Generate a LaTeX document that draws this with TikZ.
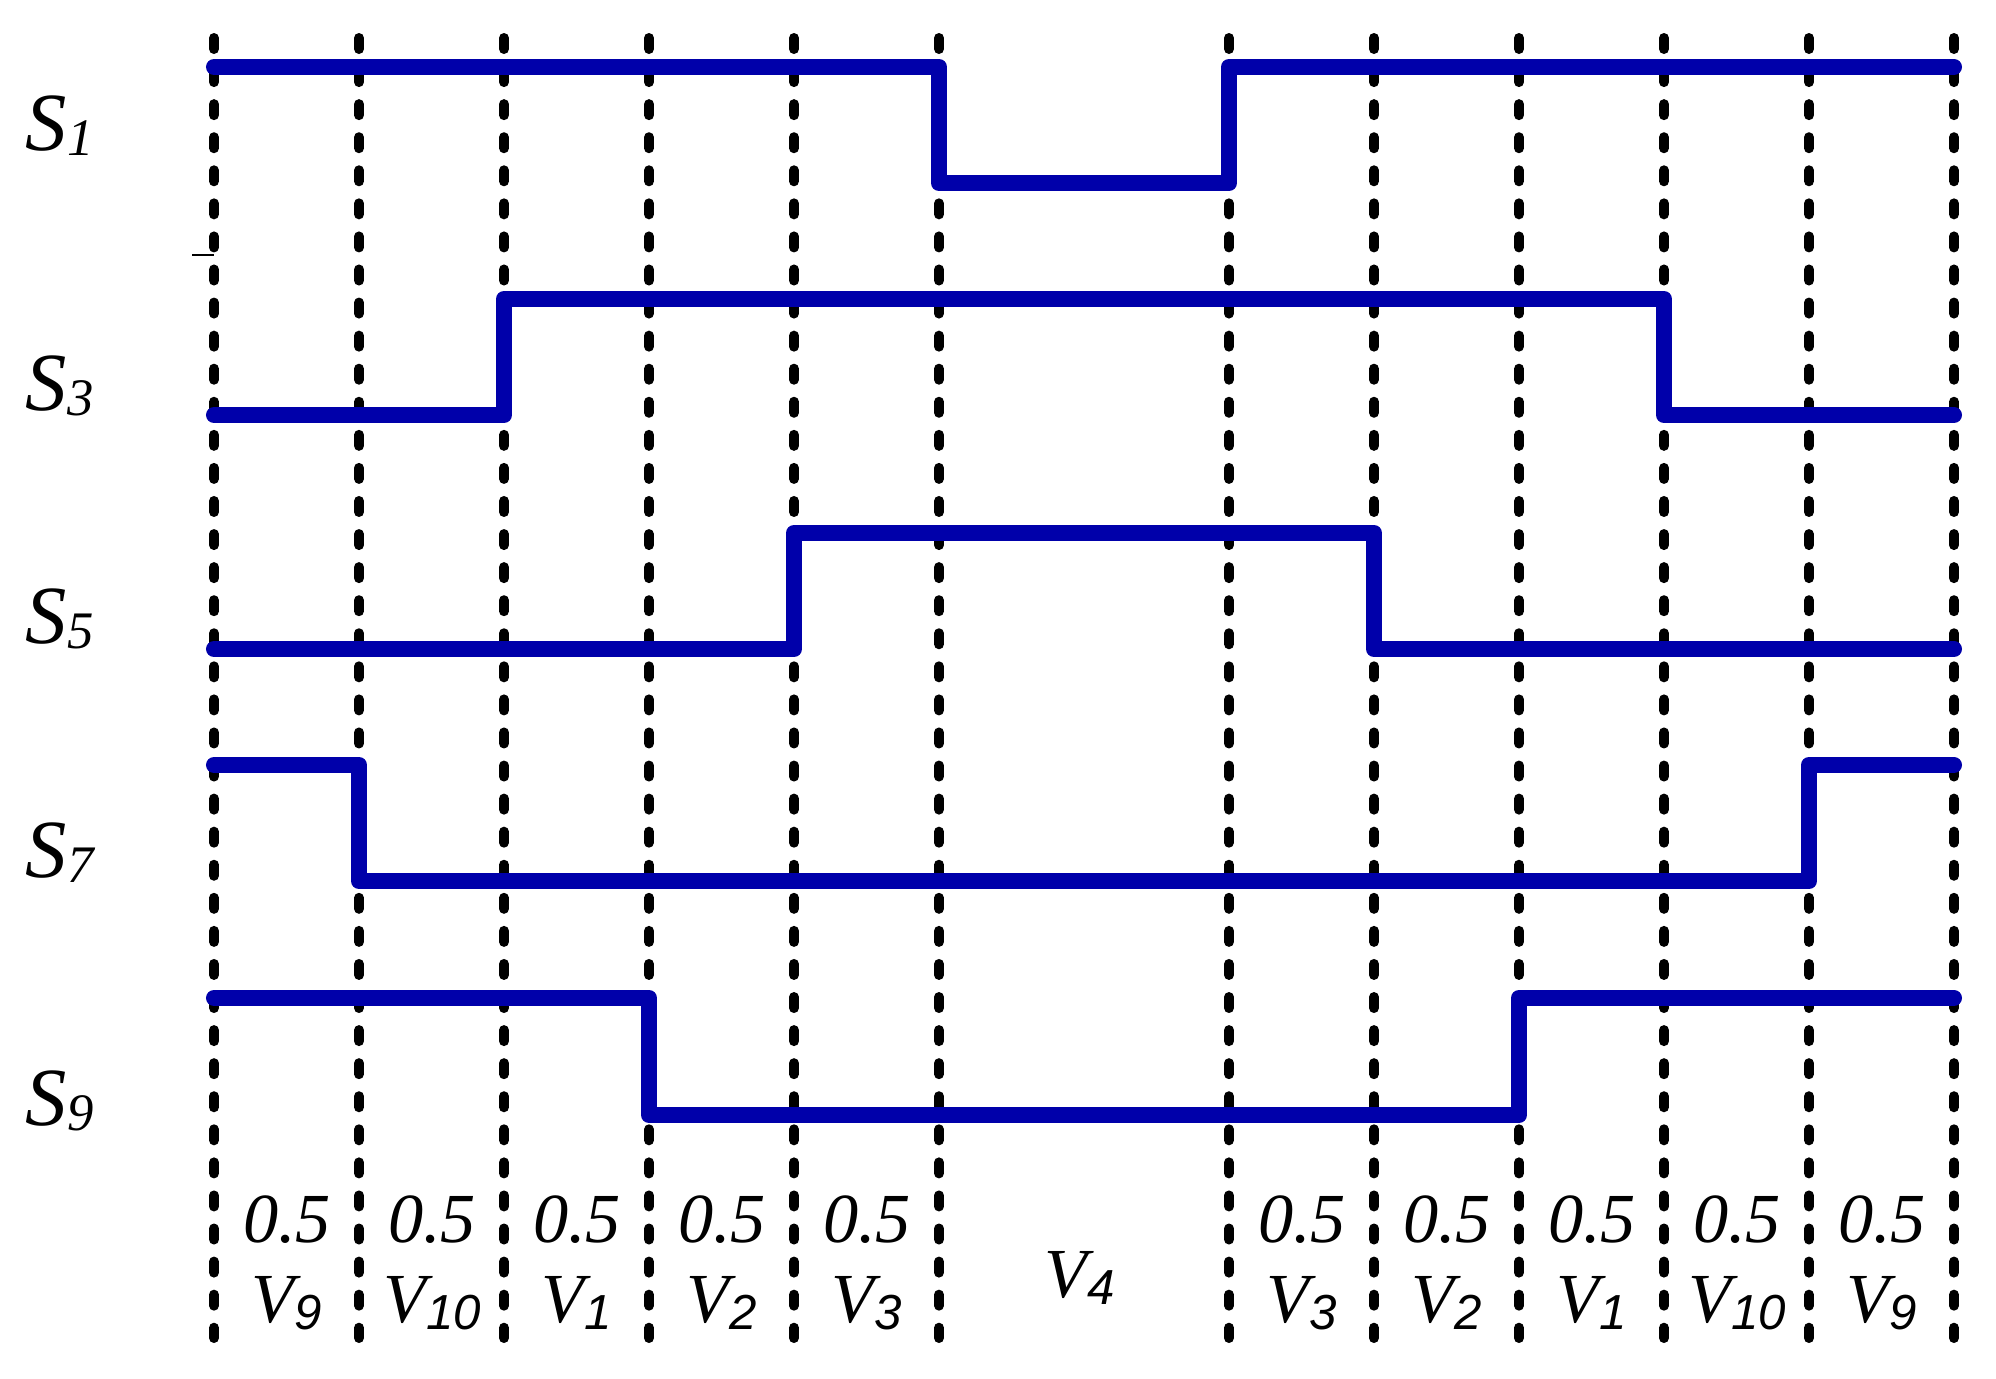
\documentclass[tikz,border=0pt]{standalone}
\usepackage{fontspec}
\setmainfont{Liberation Serif}
\newfontfamily\timesfont{Liberation Serif}
\newfontfamily\subfont{Liberation Sans}
\definecolor{sigblue}{RGB}{0,0,170}
\tikzset{
	gridline/.style={line width=0.1cm, dash pattern=on 0.11cm off 0.2205cm, line cap=round},
	signal/.style={sigblue, line width=0.16cm, line cap=round, line join=round},
	swlabel/.style={font=\timesfont\fontsize{23.5}{24}\selectfont\itshape, inner sep=0pt, anchor=base west},
	duty/.style={font=\timesfont\fontsize{20}{20}\selectfont\itshape, inner sep=0pt, anchor=base},
}
\newcommand{\sw}[1]{S\raisebox{-1.7pt}{\fontsize{15}{15}\selectfont #1}}
\newcommand{\vv}[1]{V\raisebox{-2pt}{\subfont\fontsize{14}{14}\selectfont\itshape #1}}
\begin{document}
\begin{tikzpicture}[x=0.01cm, y=-0.01cm]
	\useasboundingbox (0,0) rectangle (1996,1378);
	% switching instants
	\foreach \k in {0,1,2,3,4,5,7,8,9,10,11,12}
		\draw[gridline] ({214+145*\k},38) -- ({214+145*\k},1338);
	\draw[line width=0.4pt] (192,255) -- (214,255);
	% gate signals
	\draw[signal] (214,67) -- (939,67) -- (939,183) -- (1229,183) -- (1229,67) -- (1954,67);
	\draw[signal] (214,415) -- (504,415) -- (504,299) -- (1664,299) -- (1664,415) -- (1954,415);
	\draw[signal] (214,649) -- (794,649) -- (794,533) -- (1374,533) -- (1374,649) -- (1954,649);
	\draw[signal] (214,765) -- (359,765) -- (359,881) -- (1809,881) -- (1809,765) -- (1954,765);
	\draw[signal] (214,998) -- (649,998) -- (649,1115) -- (1519,1115) -- (1519,998) -- (1954,998);
	% switch names
	\node[swlabel] (S1) at (25,150) {\sw{1}};
	\node[swlabel] (S3) at (25,410) {\sw{3}};
	\node[swlabel] (S5) at (25,643) {\sw{5}};
	\node[swlabel] (S7) at (25,877) {\sw{7}};
	\node[swlabel] (S9) at (25,1125) {\sw{9}};
	% dwell times
	\foreach \k/\v in {0/9,1/10,2/1,3/2,4/3,7/3,8/2,9/1,10/10,11/9} {
		\node[duty] (d\k) at ({287+145*\k},1242) {0.5};
		\node[duty] (v\k) at ({287+145*\k},1322) {\vv{\v}};
	}
	\node[duty] (v4) at (1080,1297) {\vv{4}};
\end{tikzpicture}
\end{document}
